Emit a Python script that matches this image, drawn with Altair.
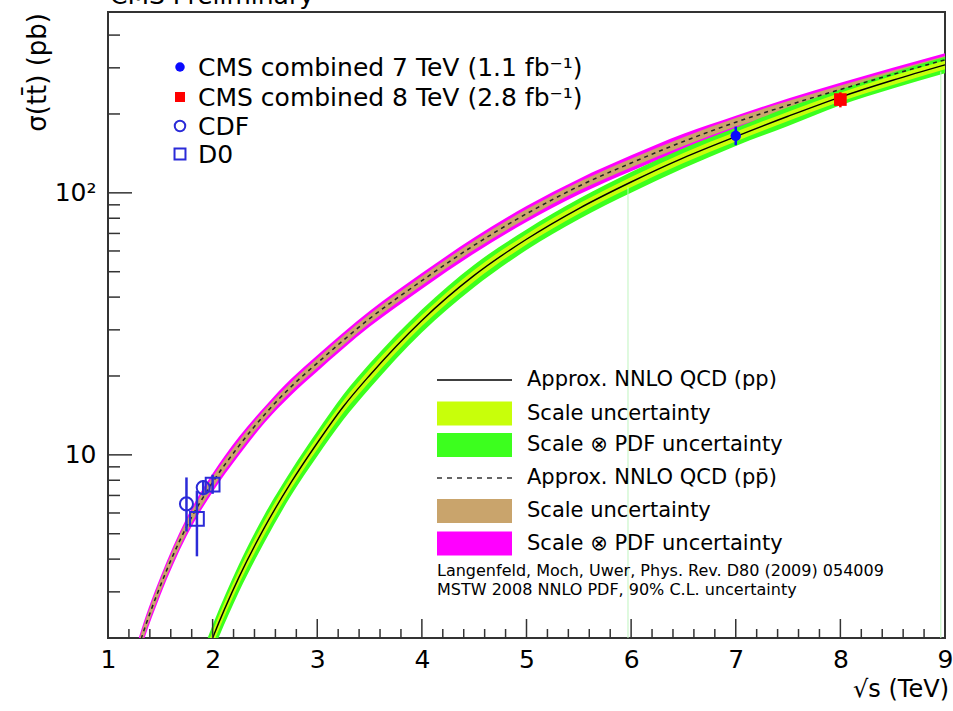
import altair as alt
import pandas as pd

FONT = "DejaVu Sans"

# ---------------- theory curves ----------------
# pp (Approx. NNLO QCD), central value and bands (pb)
pp_x = [1.9, 2.0, 2.25, 2.5, 2.75, 3.0, 3.25, 3.5, 4.0, 4.5, 5.0, 5.5, 6.0, 6.5, 7.0, 7.5, 8.0, 8.5, 9.0]
pp_c = [1.57, 2.0, 3.40, 5.32, 7.85, 11.1, 15.3, 20.1, 32.6, 48.4, 66.5, 87.1, 110, 136, 164, 196, 232, 269, 308]
pp_pdf_lo = [1.38, 1.76, 2.99, 4.68, 6.99, 9.88, 13.6, 17.9, 29.3, 43.6, 60.5, 79.3, 100, 124, 151, 180, 216, 250, 286]
pp_pdf_hi = [1.76, 2.24, 3.81, 5.96, 8.71, 12.3, 17.0, 22.3, 35.9, 53.2, 72.5, 94.9, 120, 148, 177, 212, 248, 288, 330]
pp_scale_lo = [1.48, 1.88, 3.20, 5.00, 7.42, 10.5, 14.5, 19.0, 31.0, 46.0, 63.5, 83.2, 105, 130, 157, 188, 223, 258, 296]
pp_scale_hi = [1.66, 2.12, 3.60, 5.64, 8.28, 11.7, 16.1, 21.2, 34.2, 50.8, 69.5, 91.0, 115, 142, 171, 204, 241, 280, 320]

# p-pbar (Approx. NNLO QCD)
pb_x = [1.25, 1.32, 1.5, 1.75, 2.0, 2.25, 2.5, 2.75, 3.0, 3.5, 4.0, 4.5, 5.0, 5.5, 6.0, 6.5, 7.0, 7.5, 8.0, 8.5, 9.0]
pb_c = [1.62, 2.0, 3.16, 5.31, 7.85, 10.8, 14.3, 18.2, 22.4, 33.1, 46.2, 63.1, 83.2, 106, 130, 157, 186, 216, 248, 283, 322]
pb_pdf_lo = [1.49, 1.84, 2.91, 4.89, 7.22, 9.94, 13.3, 16.9, 20.8, 30.8, 43.0, 58.7, 77.4, 98.6, 121, 146, 175, 203, 233, 266, 303]
pb_pdf_hi = [1.75, 2.16, 3.41, 5.73, 8.48, 11.7, 15.3, 19.5, 24.0, 35.4, 49.4, 67.5, 89.0, 113, 139, 168, 197, 229, 263, 300, 341]
pb_scale_lo = [1.54, 1.90, 3.00, 5.04, 7.46, 10.3, 13.7, 17.5, 21.5, 31.8, 44.4, 60.6, 79.9, 102, 125, 151, 179, 208, 239, 273, 311]
pb_scale_hi = [1.70, 2.10, 3.32, 5.58, 8.24, 11.3, 14.9, 18.9, 23.3, 34.4, 48.0, 65.6, 86.5, 110, 135, 163, 193, 224, 257, 293, 333]

# ---------------- measurements ----------------
cms7_x, cms7_y, cms7_lo, cms7_hi = [7.0], [165], [152], [179]
cms8_x, cms8_y, cms8_lo, cms8_hi = [8.0], [227], [212], [242]
cdf_x, cdf_y, cdf_lo, cdf_hi = [1.75, 1.91], [6.5, 7.5], [5.1, 7.0], [8.2, 8.0]
d0_x, d0_y, d0_lo, d0_hi = [1.85, 2.0], [5.7, 7.7], [4.1, 7.1], [7.3, 8.4]

# faint drawing artefacts (vertical green lines)
art_x = [5.97, 8.96]
art_top = [105, 290]

# ---------------- axes ticks ----------------
x_major = [1, 2, 3, 4, 5, 6, 7, 8, 9]
x_minor = [1.2, 1.4, 1.6, 1.8, 2.2, 2.4, 2.6, 2.8, 3.2, 3.4, 3.6, 3.8, 4.2, 4.4, 4.6, 4.8,
           5.2, 5.4, 5.6, 5.8, 6.2, 6.4, 6.6, 6.8, 7.2, 7.4, 7.6, 7.8, 8.2, 8.4, 8.6, 8.8]
y_major = [10, 100]
y_minor = [2, 3, 4, 5, 6, 7, 8, 9, 20, 30, 40, 50, 60, 70, 80, 90, 200, 300, 400]

leg1_labels = ["CMS combined 7 TeV (1.1 fb\u207b\u00b9)", "CMS combined 8 TeV (2.8 fb\u207b\u00b9)", "CDF", "D0"]
leg2_labels = ["Approx. NNLO QCD (pp)", "Scale uncertainty", "Scale \u2297 PDF uncertainty",
               "Approx. NNLO QCD (pp\u0304)", "Scale uncertainty", "Scale \u2297 PDF uncertainty"]
notes = ["Langenfeld, Moch, Uwer, Phys. Rev. D80 (2009) 054009",
         "MSTW 2008 NNLO PDF, 90% C.L. uncertainty"]

W, H = 837, 626
BLUE = "#0a0aff"
OPEN_BLUE = "#2b2bd8"
MAGENTA = "#ff00ff"
TAN = "#c9a46c"
GREEN = "#3cff1e"
YGREEN = "#c8ff0a"

xs = alt.Scale(domain=[1, 9], nice=False, zero=False)
ys = alt.Scale(type="log", domain=[2, 490], nice=False)
xaxis = alt.Axis(values=x_major, labelFontSize=25, labelFont=FONT, labelColor="black",
                 ticks=False, tickSize=0, domain=False, grid=False, labelPadding=9,
                 labelFlush=False, title=None)
yaxis = alt.Axis(values=y_major, labelFontSize=25, labelFont=FONT, labelColor="black",
                 labelExpr="datum.value == 100 ? '10\u00b2' : '10'",
                 ticks=False, tickSize=0, domain=False, grid=False, labelPadding=12, title=None)


def X(f):
    return alt.X(f, type="quantitative", scale=xs, axis=xaxis)


def Y(f):
    return alt.Y(f, type="quantitative", scale=ys, axis=yaxis)


pp = pd.DataFrame({"x": pp_x, "c": pp_c, "plo": pp_pdf_lo, "phi": pp_pdf_hi,
                   "slo": pp_scale_lo, "shi": pp_scale_hi})
pb = pd.DataFrame({"x": pb_x, "c": pb_c, "plo": pb_pdf_lo, "phi": pb_pdf_hi,
                   "slo": pb_scale_lo, "shi": pb_scale_hi})


def band(df, lo, hi, color):
    return alt.Chart(df).mark_area(color=color, clip=True, interpolate="monotone", opacity=1).encode(
        x=X("x"), y=Y(lo), y2=alt.Y2(hi))


layers = []
layers.append(band(pb, "plo", "phi", MAGENTA))
layers.append(band(pb, "slo", "shi", TAN))
layers.append(band(pp, "plo", "phi", GREEN))
layers.append(band(pp, "slo", "shi", YGREEN))
layers.append(alt.Chart(pp).mark_line(color="black", strokeWidth=1.4, clip=True, interpolate="monotone").encode(
    x=X("x"), y=Y("c")))
layers.append(alt.Chart(pb).mark_line(color="#222", strokeWidth=1.5, strokeDash=[4, 4], clip=True,
                                      interpolate="monotone").encode(x=X("x"), y=Y("c")))

# artefact lines
art = pd.DataFrame({"x": art_x, "top": art_top, "bot": [2, 2]})
layers.append(alt.Chart(art).mark_rule(color="#bff5bf", strokeWidth=1).encode(
    x=X("x"), y=Y("bot"), y2=alt.Y2("top")))

# inner ticks
layers.append(alt.Chart(pd.DataFrame({"x": x_major})).mark_rule(color="#333", strokeWidth=1.5).encode(
    x=X("x"), y=alt.value(H), y2=alt.value(H - 19)))
layers.append(alt.Chart(pd.DataFrame({"x": x_minor})).mark_rule(color="#333", strokeWidth=1.5).encode(
    x=X("x"), y=alt.value(H), y2=alt.value(H - 9)))
layers.append(alt.Chart(pd.DataFrame({"y": y_major})).mark_rule(color="#333", strokeWidth=1.5).encode(
    y=Y("y"), x=alt.value(0), x2=alt.value(24)))
layers.append(alt.Chart(pd.DataFrame({"y": y_minor})).mark_rule(color="#333", strokeWidth=1.5).encode(
    y=Y("y"), x=alt.value(0), x2=alt.value(12)))


def points(xv, yv, lo, hi, color, shape, filled, size, ew=2.5):
    df = pd.DataFrame({"x": xv, "y": yv, "lo": lo, "hi": hi})
    eb = alt.Chart(df).mark_rule(color=color, strokeWidth=ew).encode(x=X("x"), y=Y("lo"), y2=alt.Y2("hi"))
    mk = alt.Chart(df).mark_point(color=color, shape=shape, filled=filled, size=size,
                                  strokeWidth=2, opacity=1).encode(x=X("x"), y=Y("y"))
    return [eb, mk]


layers += points(cdf_x, cdf_y, cdf_lo, cdf_hi, OPEN_BLUE, "circle", False, 170)
layers += points(d0_x, d0_y, d0_lo, d0_hi, OPEN_BLUE, "square", False, 190)
layers += points(cms7_x, cms7_y, cms7_lo, cms7_hi, BLUE, "circle", True, 110)
layers += points(cms8_x, cms8_y, cms8_lo, cms8_hi, "#ff0000", "square", True, 160)

one = pd.DataFrame({"k": [0]})


def txt(s, x, y, size, align="left", baseline="middle", angle=None, color="black"):
    kw = dict(align=align, baseline=baseline, fontSize=size, font=FONT, color=color)
    if angle is not None:
        kw["angle"] = angle
    return alt.Chart(pd.DataFrame({"t": [s]})).mark_text(**kw).encode(
        text="t:N", x=alt.value(x), y=alt.value(y))


# titles
layers.append(txt("CMS Preliminary", 2, -8, 25, baseline="alphabetic"))
layers.append(txt("\u03c3(tt\u0304) (pb)", -70, 1, 26, align="right", angle=270))
layers.append(txt("\u221as (TeV)", W + 4, H + 52, 24, align="right"))

# legend 1 (measurements)
l1_y = [55, 85, 114, 142]
l1_style = [(BLUE, "circle", True, 90), ("#ff0000", "square", True, 100),
            (OPEN_BLUE, "circle", False, 110), (OPEN_BLUE, "square", False, 120)]
for lab, yy, (col, shp, fil, sz) in zip(leg1_labels, l1_y, l1_style):
    layers.append(alt.Chart(one).mark_point(color=col, shape=shp, filled=fil, size=sz, strokeWidth=2,
                                            opacity=1).encode(x=alt.value(72), y=alt.value(yy)))
    layers.append(txt(lab, 90, yy + 1, 25))

# legend 2 (theory)
l2_y = [368, 401.5, 433, 466, 499, 531.5]
bx0, bx1, tx = 329, 404, 419
layers.append(alt.Chart(one).mark_rule(color="black", strokeWidth=1.5).encode(
    x=alt.value(bx0), x2=alt.value(bx1), y=alt.value(l2_y[0])))
layers.append(alt.Chart(one).mark_rule(color="#333", strokeWidth=1.5, strokeDash=[5, 5]).encode(
    x=alt.value(bx0), x2=alt.value(bx1), y=alt.value(l2_y[3])))
for yy, col in [(l2_y[1], YGREEN), (l2_y[2], GREEN), (l2_y[4], TAN), (l2_y[5], MAGENTA)]:
    layers.append(alt.Chart(one).mark_rect(color=col).encode(
        x=alt.value(bx0), x2=alt.value(bx1), y=alt.value(yy - 12), y2=alt.value(yy + 12)))
for lab, yy in zip(leg2_labels, l2_y):
    layers.append(txt(lab, tx, yy, 21))
layers.append(txt(notes[0], bx0, 559, 16))
layers.append(txt(notes[1], bx0, 578, 16))

chart = alt.layer(*layers).properties(
    width=W, height=H,
    autosize=alt.AutoSizeParams(type="none"),
    padding={"left": 108, "top": 12, "right": 8, "bottom": 73},
    background="white",
).configure_view(stroke="#333", strokeWidth=2)

chart.save("out.html", embed_options={"renderer": "svg", "actions": False})
